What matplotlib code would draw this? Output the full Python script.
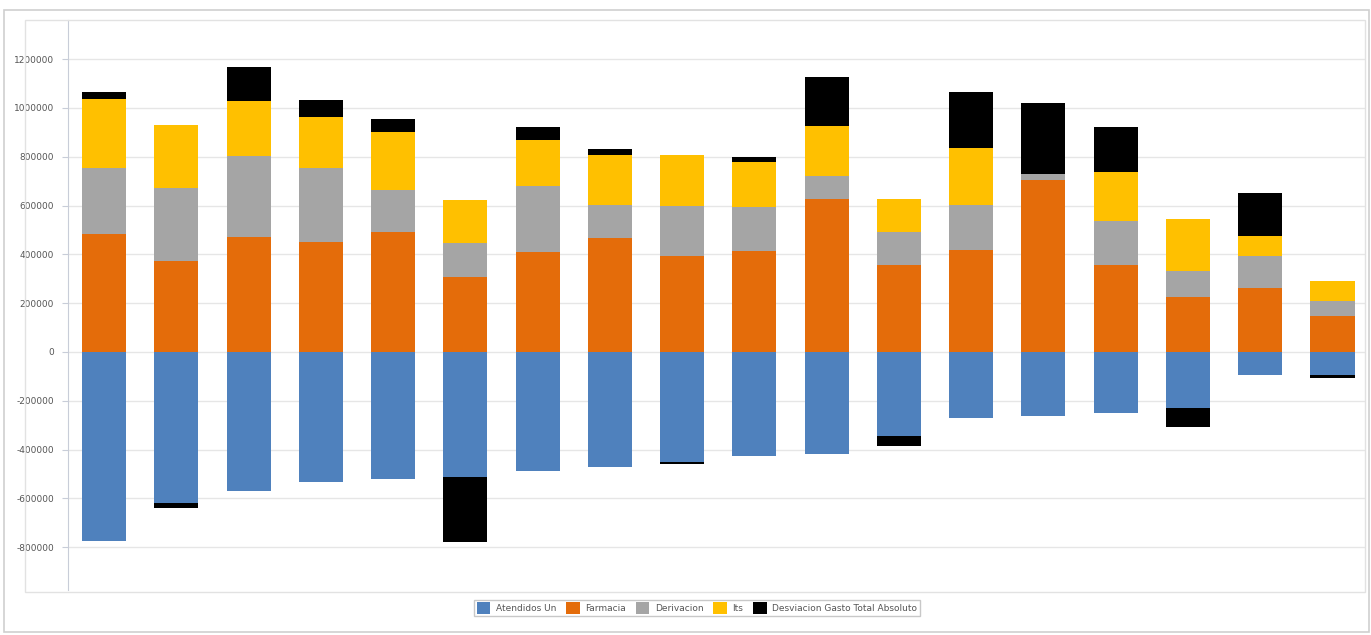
import numpy as np
import matplotlib
matplotlib.use("Agg")
import matplotlib.pyplot as plt
from matplotlib.patches import Rectangle

# ---- data ----
categories = [str(i) for i in range(1, 19)]
atendidos = [-773000, -619000, -571000, -534000, -520000, -512000, -487000, -473000, -449000,
             -427000, -416000, -343000, -272000, -264000, -248000, -231000, -95000, -95000]
farmacia = [483000, 371000, 472000, 451000, 490000, 309000, 408000, 469000, 394000,
            412000, 628000, 358000, 419000, 705000, 358000, 227000, 262000, 147000]
derivacion = [272000, 302000, 331000, 304000, 172000, 136000, 272000, 133000, 204000,
              182000, 93000, 134000, 183000, 23000, 177000, 106000, 130000, 61000]
its = [282000, 256000, 224000, 208000, 238000, 177000, 187000, 205000, 209000,
       186000, 204000, 136000, 232000, 0, 204000, 211000, 84000, 82000]
desviacion = [28000, -20000, 140000, 71000, 55000, -266000, 54000, 26000, -10000,
              18000, 202000, -42000, 231000, 290000, 183000, -75000, 174000, -11000]
yticks = [-800000, -600000, -400000, -200000, 0, 200000, 400000, 600000, 800000, 1000000, 1200000]
series_names = ["Atendidos Un", "Farmacia", "Derivacion", "Its", "Desviacion Gasto Total Absoluto"]
colors = ["#4F81BD", "#E46C0A", "#A5A5A5", "#FFC000", "#000000"]

W, H = 1371, 635
fig = plt.figure(figsize=(W / 100, H / 100), dpi=100)
fig.patch.set_facecolor("white")

# outer chart borders (pixel geometry)
def frect(x0, y0, x1, y1, ec, lw=1.0):
    fig.patches.append(Rectangle((x0 / W, 1 - y1 / H), (x1 - x0) / W, (y1 - y0) / H,
                                 transform=fig.transFigure, fill=False, ec=ec, lw=lw, zorder=0))

frect(4, 10, 1369, 632, "#cfcfcf", 1.2)
frect(25, 20, 1365, 592, "#e2e2e2", 1.0)

ax = fig.add_axes([68 / W, 1 - 590 / H, (1365 - 68) / W, (590 - 20) / H])
x = np.arange(len(categories))
width = 0.61

a = np.array(atendidos, float)
f = np.array(farmacia, float)
d = np.array(derivacion, float)
t = np.array(its, float)
dev = np.array(desviacion, float)

ax.bar(x, a, width, color=colors[0], label=series_names[0], zorder=3)
ax.bar(x, f, width, color=colors[1], label=series_names[1], zorder=3)
ax.bar(x, d, width, bottom=f, color=colors[2], label=series_names[2], zorder=3)
ax.bar(x, t, width, bottom=f + d, color=colors[3], label=series_names[3], zorder=3)
dev_bottom = np.where(dev >= 0, f + d + t, a)
ax.bar(x, dev, width, bottom=dev_bottom, color=colors[4], label=series_names[4], zorder=3)

ax.set_xlim(-0.5, len(categories) - 0.55)
ax.set_ylim(-975000, 1360000)
ax.set_yticks(yticks)
ax.set_yticklabels([str(v) for v in yticks], fontsize=6.5, color="#555555")
ax.set_xticks([])
ax.grid(axis="y", color="#e6e6e6", lw=1.0, zorder=0)
for s in ["top", "right", "bottom"]:
    ax.spines[s].set_visible(False)
ax.spines["left"].set_color("#c8cdd8")
ax.tick_params(axis="y", length=4, color="#c8cdd8", pad=6)

leg = fig.legend(loc="center", bbox_to_anchor=(697 / W, 1 - 608 / H), ncol=5, fontsize=6.5,
                 frameon=True, fancybox=False, edgecolor="#bbbbbb", handlelength=1.5,
                 handleheight=1.5, columnspacing=1.1, handletextpad=0.6, borderpad=0.3)
for txt in leg.get_texts():
    txt.set_color("#555555")

fig.savefig("out.png", dpi=100)
